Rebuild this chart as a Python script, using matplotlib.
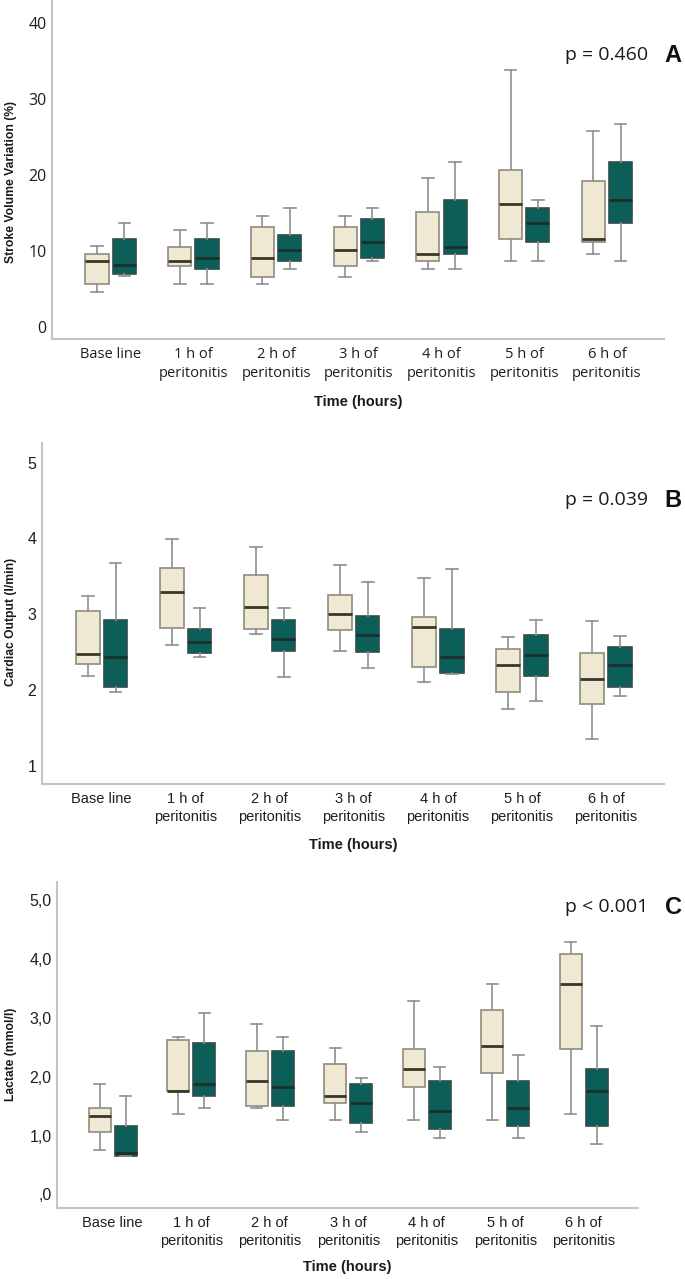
import numpy as np
import matplotlib
matplotlib.use("Agg")
import matplotlib.pyplot as plt


TIME_LABELS = ["Base line", "1 h of\nperitonitis", "2 h of\nperitonitis",
               "3 h of\nperitonitis", "4 h of\nperitonitis",
               "5 h of\nperitonitis", "6 h of\nperitonitis"]

# ──────────────────────────────────────────────
# Panel A – Stroke volume variation (%)
# ──────────────────────────────────────────────
SVV_BEIGE_LO = [4.6, 5.6, 5.6, 6.6, 7.6, 8.6, 9.6]
SVV_BEIGE_Q1 = [5.6, 8.0, 6.6, 8.0, 8.6, 11.6, 11.1]
SVV_BEIGE_MED = [8.7, 8.7, 9.1, 10.1, 9.6, 16.2, 11.6]
SVV_BEIGE_Q3 = [9.6, 10.5, 13.1, 13.1, 15.1, 20.7, 19.2]
SVV_BEIGE_HI = [10.6, 12.7, 14.6, 14.6, 19.6, 33.8, 25.7]

SVV_TEAL_LO = [6.7, 5.6, 7.6, 8.6, 7.6, 8.6, 8.6]
SVV_TEAL_Q1 = [7.0, 7.6, 8.6, 9.1, 9.6, 11.1, 13.6]
SVV_TEAL_MED = [8.1, 9.1, 10.1, 11.1, 10.5, 13.6, 16.7]
SVV_TEAL_Q3 = [11.6, 11.6, 12.1, 14.2, 16.7, 15.6, 21.7]
SVV_TEAL_HI = [13.6, 13.6, 15.6, 15.6, 21.7, 16.7, 26.7]

# ──────────────────────────────────────────────
# Panel B – Cardiac output (l/min)
# ──────────────────────────────────────────────
CO_BEIGE_LO = [2.18, 2.60, 2.74, 2.52, 2.10, 1.75, 1.35]
CO_BEIGE_Q1 = [2.34, 2.82, 2.80, 2.79, 2.30, 1.97, 1.81]
CO_BEIGE_MED = [2.48, 3.30, 3.10, 3.01, 2.83, 2.33, 2.14]
CO_BEIGE_Q3 = [3.04, 3.61, 3.52, 3.26, 2.96, 2.54, 2.49]
CO_BEIGE_HI = [3.24, 3.99, 3.89, 3.65, 3.48, 2.70, 2.91]

CO_TEAL_LO = [1.98, 2.44, 2.17, 2.29, 2.21, 1.86, 1.92]
CO_TEAL_Q1 = [2.04, 2.49, 2.51, 2.50, 2.22, 2.19, 2.04]
CO_TEAL_MED = [2.43, 2.63, 2.68, 2.73, 2.44, 2.46, 2.33]
CO_TEAL_Q3 = [2.93, 2.81, 2.92, 2.98, 2.81, 2.72, 2.57]
CO_TEAL_HI = [3.67, 3.08, 3.08, 3.43, 3.60, 2.92, 2.71]

# ──────────────────────────────────────────────
# Panel C – Lactate (mmol/l)
# ──────────────────────────────────────────────
LAC_BEIGE_LO = [0.76, 1.36, 1.47, 1.27, 1.27, 1.27, 1.36]
LAC_BEIGE_Q1 = [1.06, 1.76, 1.51, 1.56, 1.82, 2.07, 2.47]
LAC_BEIGE_MED = [1.33, 1.76, 1.93, 1.67, 2.13, 2.53, 3.58]
LAC_BEIGE_Q3 = [1.47, 2.63, 2.43, 2.22, 2.47, 3.13, 4.09]
LAC_BEIGE_HI = [1.87, 2.67, 2.89, 2.49, 3.29, 3.58, 4.29]

LAC_TEAL_LO = [0.66, 1.47, 1.27, 1.06, 0.96, 0.96, 0.86]
LAC_TEAL_Q1 = [0.66, 1.67, 1.51, 1.21, 1.11, 1.17, 1.17]
LAC_TEAL_MED = [0.70, 1.88, 1.82, 1.56, 1.42, 1.47, 1.76]
LAC_TEAL_Q3 = [1.17, 2.57, 2.43, 1.87, 1.93, 1.93, 2.13]
LAC_TEAL_HI = [1.67, 3.09, 2.67, 1.98, 2.17, 2.37, 2.87]

SVV_TICKS = [0, 10, 20, 30, 40]
CO_TICKS = [1, 2, 3, 4, 5]
LAC_TICKS = [0, 1, 2, 3, 4, 5]
LAC_TICK_LABELS = [",0", "1,0", "2,0", "3,0", "4,0", "5,0"]

BEIGE = "#EFE9D4"
TEAL = "#0B5F58"
FIG_W, FIG_H = 685, 1279


def make_stats(lo, q1, med, q3, hi):
    """Build the stats dicts that Axes.bxp wants."""
    return [dict(whislo=a, q1=b, med=c, q3=d, whishi=e, fliers=[])
            for a, b, c, d, e in zip(lo, q1, med, q3, hi)]


def draw_boxes(ax, stats, pos, fill, edge, median_col):
    ax.bxp(stats, positions=pos, widths=0.28, capwidths=0.14,
           patch_artist=True, showfliers=False,
           boxprops=dict(facecolor=fill, edgecolor=edge, linewidth=1.2),
           medianprops=dict(color=median_col, linewidth=2.0),
           whiskerprops=dict(color="#8f8f8f", linewidth=1.2),
           capprops=dict(color="#8f8f8f", linewidth=1.2))


def style_panel(ax, font, ylabel, ylim, yticks, yticklabels, ylabel_y, xlabel_top):
    x = np.arange(len(TIME_LABELS))
    ax.set_xlim(-0.71, 6.69)
    ax.set_ylim(*ylim)
    ax.set_xticks(x)
    ax.set_xticklabels(TIME_LABELS, family=font, fontsize=10.5, color="#1e1e1e",
                       linespacing=1.3)
    ax.set_yticks(yticks)
    ax.set_yticklabels(yticklabels, family=font, fontsize=11.5, color="#1e1e1e")
    ax.tick_params(length=0, pad=4)
    ax.tick_params(axis="x", pad=6)
    for side in ["top", "right"]:
        ax.spines[side].set_visible(False)
    for side in ["left", "bottom"]:
        ax.spines[side].set_color("#c4c4c4")
        ax.spines[side].set_linewidth(1.5)
    ax.set_ylabel(ylabel, family="Liberation Sans", fontweight="bold", fontsize=8.7,
                  color="#1a1a1a")
    ax.yaxis.set_label_coords(17 / FIG_W, ylabel_y, transform=ax.figure.transFigure)
    ax.set_xlabel("Time (hours)", family="Liberation Sans", fontweight="bold",
                  fontsize=10.5, color="#1a1a1a")
    ax.xaxis.set_label_coords(ax.get_position().x0 + ax.get_position().width / 2,
                              1 - xlabel_top / FIG_H, transform=ax.figure.transFigure)


fig = plt.figure(figsize=(6.85, 12.79), dpi=100)

panels = [
    dict(rect=[52 / FIG_W, 1 - 339 / FIG_H, 612 / FIG_W, 339 / FIG_H],
         beige=(SVV_BEIGE_LO, SVV_BEIGE_Q1, SVV_BEIGE_MED, SVV_BEIGE_Q3, SVV_BEIGE_HI),
         teal=(SVV_TEAL_LO, SVV_TEAL_Q1, SVV_TEAL_MED, SVV_TEAL_Q3, SVV_TEAL_HI),
         font="Open Sans", ylabel="Stroke Volume Variation (%)", ylim=(-1.6, 43.0),
         yticks=SVV_TICKS, yticklabels=[str(t) for t in SVV_TICKS],
         ptext="p = 0.460", letter="A", text_y=55, xlabel_top=395, ylabel_y=182),
    dict(rect=[42 / FIG_W, 1 - 784 / FIG_H, 622 / FIG_W, 341 / FIG_H],
         beige=(CO_BEIGE_LO, CO_BEIGE_Q1, CO_BEIGE_MED, CO_BEIGE_Q3, CO_BEIGE_HI),
         teal=(CO_TEAL_LO, CO_TEAL_Q1, CO_TEAL_MED, CO_TEAL_Q3, CO_TEAL_HI),
         font="Liberation Sans", ylabel="Cardiac Output (l/min)", ylim=(0.76, 5.26),
         yticks=CO_TICKS, yticklabels=[str(t) for t in CO_TICKS],
         ptext="p = 0.039", letter="B", text_y=500, xlabel_top=838, ylabel_y=622),
    dict(rect=[57 / FIG_W, 1 - 1208 / FIG_H, 581 / FIG_W, 326 / FIG_H],
         beige=(LAC_BEIGE_LO, LAC_BEIGE_Q1, LAC_BEIGE_MED, LAC_BEIGE_Q3, LAC_BEIGE_HI),
         teal=(LAC_TEAL_LO, LAC_TEAL_Q1, LAC_TEAL_MED, LAC_TEAL_Q3, LAC_TEAL_HI),
         font="Liberation Sans", ylabel="Lactate (mmol/l)", ylim=(-0.23, 5.31),
         yticks=LAC_TICKS, yticklabels=LAC_TICK_LABELS,
         ptext="p < 0.001", letter="C", text_y=907, xlabel_top=1260, ylabel_y=1054),
]

for p in panels:
    ax = fig.add_axes(p["rect"])
    x = np.arange(len(TIME_LABELS))
    draw_boxes(ax, make_stats(*p["beige"]), x - 0.165, BEIGE, "#8e8b80", "#3a3524")
    draw_boxes(ax, make_stats(*p["teal"]), x + 0.165, TEAL, "#2f4f4a", "#1a2f2b")
    style_panel(ax, p["font"], p["ylabel"], p["ylim"], p["yticks"], p["yticklabels"],
                1 - p["ylabel_y"] / FIG_H, p["xlabel_top"])
    fig.text(648 / FIG_W, 1 - p["text_y"] / FIG_H, p["ptext"], family="Open Sans",
             fontsize=14, color="#1a1a1a", ha="right", va="center")
    fig.text(673 / FIG_W, 1 - p["text_y"] / FIG_H, p["letter"], family="Liberation Sans",
             fontweight="bold", fontsize=17, color="#111111", ha="center", va="center")

fig.savefig("out.png", dpi=100)
